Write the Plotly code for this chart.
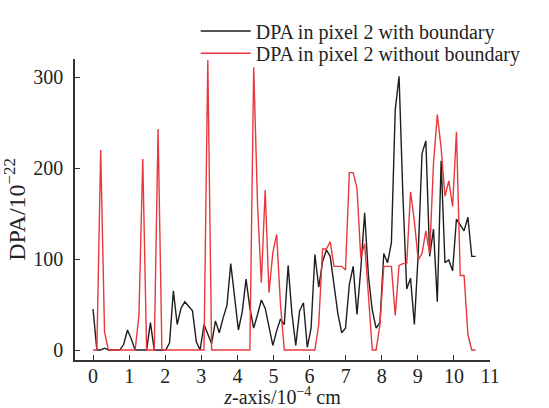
import plotly.graph_objects as go

# z positions (10^-4 cm), 101 samples from 0 to 10.6
z = [0.000, 0.106, 0.212, 0.318, 0.424, 0.530, 0.636, 0.742, 0.848, 0.954,
     1.060, 1.166, 1.272, 1.378, 1.484, 1.590, 1.696, 1.802, 1.908, 2.014,
     2.120, 2.226, 2.332, 2.438, 2.544, 2.650, 2.756, 2.862, 2.968, 3.074,
     3.180, 3.286, 3.392, 3.498, 3.604, 3.710, 3.816, 3.922, 4.028, 4.134,
     4.240, 4.346, 4.452, 4.558, 4.664, 4.770, 4.876, 4.982, 5.088, 5.194,
     5.300, 5.406, 5.512, 5.618, 5.724, 5.830, 5.936, 6.042, 6.148, 6.254,
     6.360, 6.466, 6.572, 6.678, 6.784, 6.890, 6.996, 7.102, 7.208, 7.314,
     7.420, 7.526, 7.632, 7.738, 7.844, 7.950, 8.056, 8.162, 8.268, 8.374,
     8.480, 8.586, 8.692, 8.798, 8.904, 9.010, 9.116, 9.222, 9.328, 9.434,
     9.540, 9.646, 9.752, 9.858, 9.964, 10.070, 10.176, 10.282, 10.388, 10.494,
     10.600]

# DPA with boundary (black)
dpa_with = [45, 0, 0, 2, 0, 0, 0, 0, 6, 22,
            12, 0, 0, 0, 0, 30, 0, 0, 0, 0,
            8, 65, 28, 46, 53, 48, 43, 9, 0, 28,
            17, 7, 32, 19, 35, 49, 95, 60, 22, 42,
            78, 46, 24, 39, 55, 46, 24, 5, 21, 34,
            28, 93, 40, 5, 43, 52, 3, 24, 105, 69,
            97, 110, 103, 72, 40, 19, 24, 72, 92, 39,
            89, 151, 81, 44, 24, 30, 106, 96, 118, 264,
            301, 170, 67, 79, 28, 105, 216, 230, 103, 133,
            53, 208, 96, 99, 87, 144, 138, 131, 146, 103,
            103]

# DPA without boundary (red)
dpa_without = [0, 0, 220, 20, 0, 0, 0, 0, 0, 0,
               0, 0, 38, 210, 0, 0, 0, 243, 0, 0,
               0, 0, 0, 0, 0, 0, 0, 0, 0, 0,
               319, 0, 0, 0, 0, 0, 0, 0, 0, 0,
               0, 0, 311, 160, 74, 176, 63, 107, 127, 50,
               0, 0, 0, 0, 0, 0, 0, 0, 0, 28,
               111, 111, 119, 92, 92, 92, 88, 195, 195, 178,
               101, 117, 60, 0, 0, 28, 92, 92, 92, 38,
               93, 95, 95, 174, 142, 99, 106, 131, 106, 205,
               259, 222, 169, 186, 158, 240, 82, 82, 17, 0,
               0]

font_family = "Liberation Serif, Times New Roman, serif"

fig = go.Figure()
fig.add_trace(go.Scatter(x=z, y=dpa_with, mode='lines',
                         name='DPA in pixel 2 with boundary',
                         line=dict(color='#1e1e1e', width=1.4),
                         legend='legend'))
fig.add_trace(go.Scatter(x=z, y=dpa_without, mode='lines',
                         name='DPA in pixel 2 without boundary',
                         line=dict(color='#e8383d', width=1.4),
                         legend='legend2'))

# one legend per line so each row can sit where the reference has it
leg = dict(xanchor='left', yanchor='middle', bgcolor='rgba(0,0,0,0)',
           font=dict(size=20), itemwidth=50)

fig.update_layout(
    width=549, height=408,
    margin=dict(l=75, r=59, t=50, b=48),
    paper_bgcolor='white', plot_bgcolor='white',
    font=dict(family=font_family, size=20, color='#222'),
    showlegend=True,
    legend=dict(leg, x=0.291, y=1.093),
    legend2=dict(leg, x=0.291, y=1.019),
)

fig.update_xaxes(range=[-0.5, 11], tickmode='linear', tick0=0, dtick=1,
                 showline=True, linecolor='#333', linewidth=1.5,
                 ticks='inside', ticklen=5, tickcolor='#333',
                 ticklabelstandoff=-3,
                 showgrid=False, zeroline=False, automargin=False,
                 title=dict(text='<i>z</i>-axis/10<sup>−4</sup> cm',
                            font=dict(size=20), standoff=8))
fig.update_yaxes(range=[-11, 320], tickvals=[0, 100, 200, 300],
                 showline=True, linecolor='#333', linewidth=1.5,
                 ticks='inside', ticklen=5, tickcolor='#333',
                 ticklabelstandoff=6,
                 showgrid=False, zeroline=False, automargin=False,
                 title=dict(text='DPA/10<sup>−22</sup>', standoff=4))

# the page body has a default 8px margin; drop it so the figure fills the window
fig.write_html("out.html", config={'displayModeBar': False},
               post_script="document.body.style.margin='0';document.body.style.overflow='hidden';")
